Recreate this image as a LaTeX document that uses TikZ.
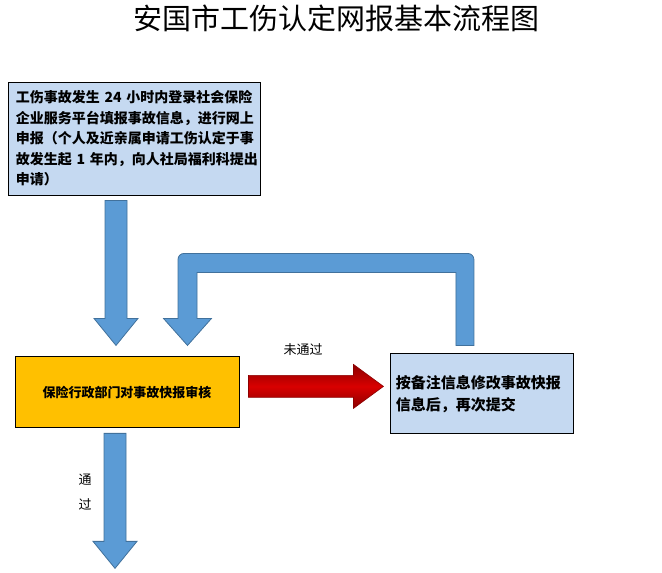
\documentclass[tikz,border=0pt]{standalone}
\usepackage{fontspec}
\setmainfont{Noto Sans CJK SC}
\usepackage{xcolor}
\usepackage{tikz}
\usetikzlibrary{calc,positioning}
\definecolor{boxblue}{RGB}{197,217,241}
\definecolor{boxgold}{RGB}{255,192,0}
\definecolor{arrowblue}{RGB}{91,155,213}
\definecolor{arrowedge}{RGB}{65,113,156}
\definecolor{darkred}{RGB}{140,0,0}

% vertical block arrow between two coordinates
\newcommand{\downblock}[2]{%
  \path[bluearrow] let \p1=(#1), \p2=(#2) in
    (\x1-11pt,\y1) -- (\x1+11pt,\y1) -- (\x1+11pt,\y2+27pt) -- (\x1+22pt,\y2+27pt)
    -- (\x1,\y2) -- (\x1-22pt,\y2+27pt) -- (\x1-11pt,\y2+27pt) -- cycle;}

\begin{document}
\begin{tikzpicture}[x=1pt, y=-1pt,
        bluebox/.style={rectangle, draw=black, line width=0.9pt, fill=boxblue, align=left, font=\bfseries},
        goldbox/.style={rectangle, draw=black, line width=0.9pt, fill=boxgold, align=center, font=\bfseries\fontsize{13pt}{16pt}\selectfont},
        bluearrow/.style={fill=arrowblue, draw=arrowedge, line width=0.8pt},
        redarrow/.style={top color=darkred, bottom color=darkred, middle color=red!85!black, draw=darkred, line width=0.6pt},
        lbl/.style={font=\fontsize{13pt}{25pt}\selectfont, align=center}]

    \useasboundingbox (0,0) rectangle (662,573);

    \node[font=\fontsize{29pt}{34pt}\selectfont] (title) at (336.5,18) {安国市工伤认定网报基本流程图};

    \node[bluebox, text width=236pt, inner xsep=8pt, minimum height=113pt,
          font=\bfseries\fontsize{14pt}{20.5pt}\selectfont] (report) at (134,138.5)
        {工伤事故发生~24~小时内登录社会保险\\企业服务平台填报事故信息，进行网上\\申报（个人及近亲属申请工伤认定于事\\故发生起~1~年内，向人社局福利科提出\\申请）};
    \node[goldbox, minimum width=224pt, minimum height=71pt, below=161pt of report, xshift=-7pt] (review)
        {保险行政部门对事故快报审核};
    \node[bluebox, text width=173pt, inner xsep=5pt, minimum height=80pt,
          font=\bfseries\fontsize{15pt}{22pt}\selectfont, right=151pt of review, yshift=-1.5pt] (resubmit)
        {按备注信息修改事故快报\\信息后，再次提交};

    \node[lbl] (fail) at (303,350) {未通过};
    \node[lbl] (pass) at (85,492.5) {通\\过};

    % block arrows
    \coordinate (a1s) at ($(report.south)+(-18,5)$);
    \coordinate (a1e) at ($(review.north -| a1s)+(0,-11)$);
    \coordinate (a3s) at ($(review.south)+(-12,5)$);
    \coordinate (a3e) at ($(a3s)+(0,135)$);
    \coordinate (loopstart) at ($(resubmit.north)+(-17.5,-8)$);
    \coordinate (loopend) at ($(review.north)+(60.5,-11)$);
    \coordinate (r1) at ($(review.east)+(9,-6)$);
    \coordinate (r2) at ($(r1 -| resubmit.west)+(-7,0)$);

    \downblock{a1s}{a1e}
    \downblock{a3s}{a3e}

    \path[bluearrow] let \p1=(loopstart), \p2=(loopend) in
        (\x1+9pt,\y1+40pt) [rounded corners=6pt] -- (\x1+9pt,\y1+92pt) -- (\x2-9.5pt,\y1+92pt)
        -- (\x2-9.5pt,\y1+60pt) [sharp corners] -- (\x2-9.5pt,\y2+27pt) -- (\x2-24pt,\y2+27pt)
        -- (\x2,\y2) -- (\x2+24pt,\y2+27pt) -- (\x2+9.5pt,\y2+27pt) -- (\x2+9.5pt,\y1+73pt)
        -- (\x1-9pt,\y1+73pt) -- (\x1-9pt,\y1) -- (\x1+9pt,\y1) -- cycle;

    \shade[redarrow] let \p1=(r1), \p2=(r2) in
        (\x1,\y1+11pt) -- (\x2-30pt,\y1+11pt) -- (\x2-30pt,\y1+22pt) -- (\x2,\y2)
        -- (\x2-30pt,\y1-22pt) -- (\x2-30pt,\y1-11pt) -- (\x1,\y1-11pt) -- cycle;

\end{tikzpicture}
\end{document}
